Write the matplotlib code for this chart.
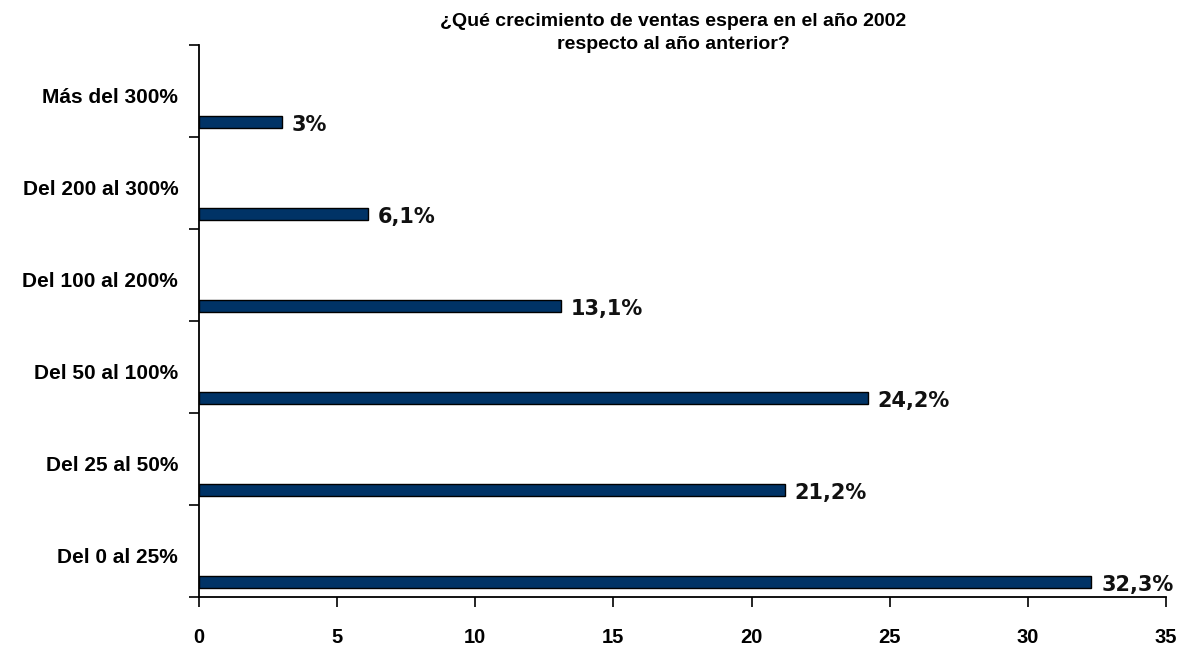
import matplotlib
matplotlib.use("Agg")
import matplotlib.pyplot as plt
import numpy as np


categories = [
    "Del 0 al 25%",
    "Del 25 al 50%",
    "Del 50 al 100%",
    "Del 100 al 200%",
    "Del 200 al 300%",
    "Más del 300%",
]
values = [32.3, 21.2, 24.2, 13.1, 6.1, 3.0]
value_labels = ["32,3%", "21,2%", "24,2%", "13,1%", "6,1%", "3%"]
x_ticks = [0, 5, 10, 15, 20, 25, 30, 35]

TITLE = "¿Qué crecimiento de ventas espera en el año 2002\nrespecto al año anterior?"
BAR_COLOR = "#003366"


def main():
    fig = plt.figure(figsize=(11.99, 6.49), dpi=100)
    fig.patch.set_facecolor("white")
    ax = fig.add_axes([199 / 1199, 1 - 597 / 649, (1166 - 199) / 1199, (597 - 45) / 649])

    pos = np.arange(len(categories))
    ax.barh(pos - 0.34, values, height=0.13, color=BAR_COLOR,
            edgecolor="black", linewidth=1.0, zorder=2)

    for y, v, lab in zip(pos, values, value_labels):
        ax.annotate(lab, (v, y - 0.37), xytext=(7, 0), textcoords="offset points",
                    ha="left", va="center", fontsize=15, fontweight="bold",
                    family="DejaVu Sans", color="#111111")

    ax.set_xlim(0, 35)
    ax.set_ylim(-0.5, len(categories) - 0.5)

    ax.set_xticks(x_ticks)
    ax.set_xticklabels([str(t) for t in x_ticks], fontsize=14.5, fontweight="bold",
                       family="Liberation Sans")
    ax.tick_params(axis="x", direction="out", length=7, width=1.2, pad=15)

    ax.set_yticks(pos - 0.05)
    ax.set_yticklabels(categories, fontsize=15, fontweight="bold", family="Liberation Sans")
    ax.tick_params(axis="y", which="major", length=0, pad=15)
    ax.set_yticks(np.arange(len(categories) + 1) - 0.5, minor=True)
    ax.tick_params(axis="y", which="minor", direction="out", length=7, width=1.2)

    for side in ("top", "right"):
        ax.spines[side].set_visible(False)
    for side in ("left", "bottom"):
        ax.spines[side].set_linewidth(1.3)

    fig.text(673 / 1199, 1 - 33 / 649, TITLE, ha="center", va="center",
             fontsize=14, fontweight="bold", family="Liberation Sans",
             linespacing=1.45)

    fig.savefig("out.png", dpi=100, facecolor="white")
    plt.close(fig)


if __name__ == "__main__":
    main()
